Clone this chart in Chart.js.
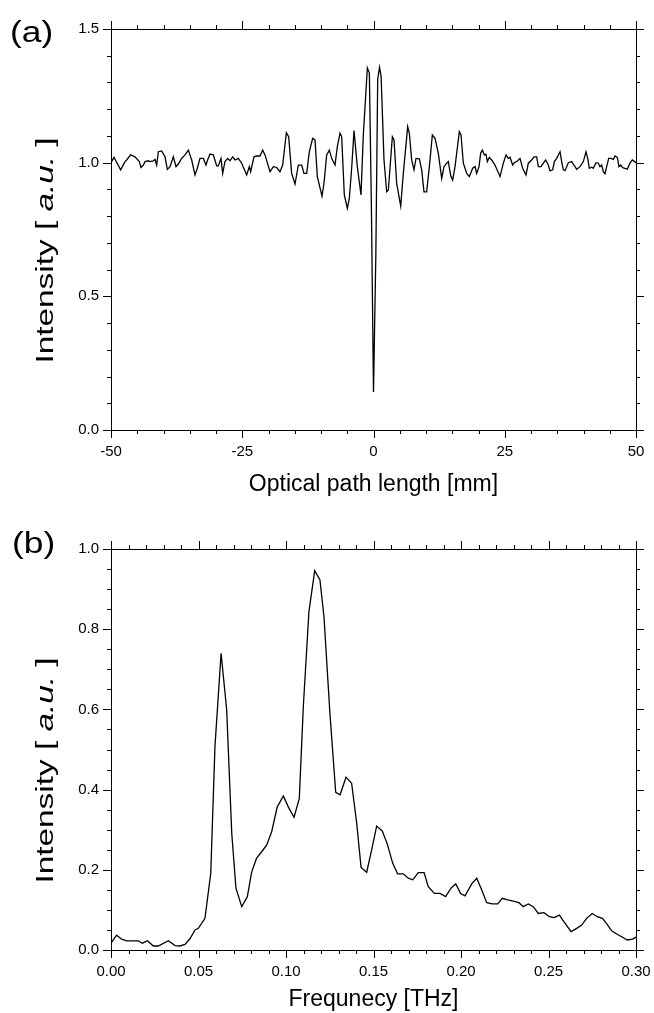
<!DOCTYPE html>
<html>
<head>
<meta charset="utf-8">
<script src="https://cdn.jsdelivr.net/npm/chart.js@4.4.0/dist/chart.umd.min.js"></script>
<style>
  body { margin: 0; background: #fff; }
  #wrap { position: relative; width: 654px; height: 1013px; }
  .panel { position: absolute; left: 0; width: 654px; }
</style>
</head>
<body>
<div id="wrap">
  <div class="panel" style="top:0;height:505px"><canvas id="chartA"></canvas></div>
  <div class="panel" style="top:505px;height:508px"><canvas id="chartB"></canvas></div>
</div>
<script>
// (a) interferogram: optical path length [mm] vs intensity
var pathX = [-50, -49.43, -48.16, -47.33, -47.02, -46.25, -45.43, -44.6, -44.29, -43.84, -43.52, -42.89, -42.57, -41.94, -41.62, -41.3, -40.98, -40.35, -39.71, -39.27, -38.76, -38.13, -37.62, -37.17, -36.54, -35.9, -35.27, -34.63, -34.0, -33.56, -33.05, -32.41, -31.9, -31.65, -31.14, -30.51, -29.87, -29.56, -29.05, -28.73, -28.29, -27.78, -27.33, -26.83, -26.38, -25.75, -25.11, -24.16, -23.65, -23.4, -22.76, -22.25, -21.62, -21.11, -20.67, -19.71, -19.08, -18.44, -17.81, -17.3, -16.6, -16.16, -15.59, -14.95, -14.32, -13.68, -13.24, -12.73, -12.22, -11.59, -11.14, -10.7, -9.81, -9.43, -8.92, -8.41, -7.97, -7.33, -6.89, -6.38, -6.06, -5.56, -4.98, -4.6, -4.16, -3.71, -3.08, -2.38, -1.94, -1.17, -0.79, -0.4, 0, 0.45, 0.8, 1.15, 1.45, 2.0, 2.51, 2.83, 3.59, 3.91, 4.41, 5.18, 5.68, 6.51, 6.83, 7.27, 7.72, 8.1, 8.73, 9.18, 9.62, 10.13, 10.64, 11.21, 11.72, 12.35, 12.99, 13.43, 13.94, 14.26, 14.57, 14.76, 15.08, 15.53, 16.35, 16.67, 17.11, 17.75, 18.26, 18.89, 19.34, 19.65, 20.1, 20.41, 20.73, 21.11, 21.43, 21.68, 22.07, 22.51, 23.14, 24.1, 24.73, 25.24, 25.68, 26.0, 26.51, 26.83, 27.4, 27.91, 28.41, 29.05, 29.49, 30.13, 30.57, 31.08, 31.4, 31.91, 32.35, 32.8, 33.3, 33.62, 34.13, 34.45, 34.89, 35.53, 35.84, 36.16, 36.48, 37.11, 37.75, 38.19, 38.7, 39.34, 39.97, 40.48, 40.8, 41.11, 41.56, 41.87, 42.38, 42.83, 43.14, 43.46, 43.78, 44.1, 44.41, 44.8, 45.24, 45.68, 46.0, 46.45, 46.76, 47.08, 47.46, 47.9, 48.35, 48.86, 49.3, 50];
var pathY = [1.0, 1.02, 0.973, 1.004, 1.01, 1.029, 1.022, 1.004, 0.982, 0.991, 1.004, 1.007, 1.004, 1.007, 1.012, 0.991, 1.041, 1.044, 1.022, 0.975, 0.985, 1.022, 0.985, 0.995, 1.016, 1.029, 1.047, 1.01, 0.954, 0.979, 1.016, 1.016, 0.991, 1.007, 1.032, 1.029, 0.988, 0.988, 1.016, 0.96, 1.004, 1.016, 1.007, 1.022, 1.01, 1.016, 0.998, 0.954, 0.985, 0.966, 1.022, 1.025, 1.025, 1.047, 1.029, 0.966, 0.985, 0.982, 0.966, 0.991, 1.112, 1.097, 0.96, 0.92, 0.991, 0.991, 0.96, 0.96, 1.041, 1.091, 1.085, 0.948, 0.875, 0.923, 1.029, 1.047, 1.016, 0.991, 1.06, 1.11, 1.097, 0.879, 0.829, 0.867, 0.979, 1.12, 0.985, 0.879, 1.104, 1.354, 1.335, 0.835, 0.142, 0.66, 1.312, 1.357, 1.322, 1.01, 0.891, 0.898, 1.097, 1.085, 0.923, 0.838, 0.96, 1.135, 1.11, 1.01, 0.973, 1.016, 1.014, 0.973, 0.891, 0.891, 0.985, 1.104, 1.091, 1.035, 0.941, 0.985, 0.998, 1.004, 0.966, 0.948, 0.935, 0.985, 1.116, 1.104, 0.998, 0.96, 0.948, 0.979, 0.985, 0.96, 0.985, 1.035, 1.047, 1.029, 1.031, 1.004, 1.02, 1.01, 0.991, 0.948, 0.998, 1.029, 1.016, 1.02, 0.991, 1.0, 1.006, 1.016, 0.979, 0.954, 0.998, 1.01, 1.022, 1.022, 0.985, 0.985, 0.998, 1.01, 0.991, 0.969, 0.973, 1.004, 1.016, 1.041, 1.004, 0.973, 0.97, 1.0, 1.004, 0.991, 0.975, 0.985, 1.004, 1.041, 1.016, 0.979, 0.983, 0.979, 1.0, 0.998, 0.985, 0.991, 0.966, 0.958, 0.985, 1.016, 1.016, 1.012, 1.025, 1.02, 0.985, 0.991, 0.981, 0.979, 0.976, 0.998, 1.01, 1.0];

// (b) spectrum: frequency [THz] vs intensity
var freqX = [0, 0.0032, 0.0061, 0.009, 0.0156, 0.0179, 0.0208, 0.0242, 0.027, 0.0328, 0.0366, 0.0394, 0.0423, 0.0451, 0.048, 0.0499, 0.0537, 0.057, 0.0594, 0.0629, 0.0661, 0.069, 0.0714, 0.0747, 0.0779, 0.0804, 0.0832, 0.0861, 0.089, 0.0918, 0.095, 0.0985, 0.1013, 0.1046, 0.1076, 0.1099, 0.1131, 0.1164, 0.1194, 0.1217, 0.1251, 0.1284, 0.1309, 0.1343, 0.1375, 0.1404, 0.1429, 0.1461, 0.149, 0.1518, 0.155, 0.1579, 0.161, 0.1638, 0.167, 0.1699, 0.1724, 0.1756, 0.1789, 0.1813, 0.1848, 0.188, 0.1912, 0.1943, 0.197, 0.1998, 0.2023, 0.2061, 0.209, 0.2118, 0.2147, 0.2179, 0.221, 0.2236, 0.2267, 0.2299, 0.2331, 0.2356, 0.2385, 0.2413, 0.2442, 0.2474, 0.2505, 0.2533, 0.2562, 0.2594, 0.2629, 0.2661, 0.269, 0.2718, 0.275, 0.2779, 0.2808, 0.2832, 0.2861, 0.289, 0.2918, 0.295, 0.2981, 0.3];
var freqY = [0.017, 0.037, 0.027, 0.023, 0.023, 0.017, 0.023, 0.01, 0.01, 0.023, 0.011, 0.01, 0.014, 0.028, 0.05, 0.054, 0.079, 0.191, 0.507, 0.74, 0.599, 0.291, 0.154, 0.108, 0.133, 0.195, 0.229, 0.245, 0.262, 0.295, 0.357, 0.384, 0.357, 0.331, 0.378, 0.607, 0.844, 0.946, 0.923, 0.831, 0.59, 0.393, 0.387, 0.431, 0.416, 0.316, 0.206, 0.194, 0.251, 0.309, 0.297, 0.264, 0.216, 0.19, 0.19, 0.179, 0.175, 0.193, 0.193, 0.158, 0.141, 0.141, 0.133, 0.154, 0.165, 0.141, 0.135, 0.165, 0.179, 0.15, 0.118, 0.115, 0.115, 0.129, 0.125, 0.122, 0.118, 0.108, 0.115, 0.108, 0.091, 0.093, 0.083, 0.081, 0.087, 0.067, 0.046, 0.054, 0.062, 0.079, 0.091, 0.083, 0.079, 0.066, 0.048, 0.04, 0.033, 0.025, 0.027, 0.032];

var FONT = '"Liberation Sans", Arial, sans-serif';

function toPoints(xs, ys) {
    return xs.map(function (x, i) { return { x: x, y: ys[i] }; });
}

function isMultiple(v, step) {
    var r = v / step;
    return Math.abs(r - Math.round(r)) < 1e-6;
}

// frame round the plot area, with major and minor ticks pointing outward on all four sides
var frameTicks = {
    id: 'frameTicks',
    afterDraw: function (chart, args, o) {
        var ctx = chart.ctx, a = chart.chartArea;
        var xs = chart.scales.x, ys = chart.scales.y;
        ctx.save();
        ctx.strokeStyle = '#000';
        ctx.lineWidth = 1;
        ctx.strokeRect(Math.round(a.left) + 0.5, Math.round(a.top) + 0.5,
            Math.round(a.right - a.left), Math.round(a.bottom - a.top));
        ctx.beginPath();
        var n = Math.round((xs.max - xs.min) / o.xMinor), i, v, p, len;
        for (i = 0; i <= n; i++) {
            v = xs.min + i * o.xMinor;
            p = Math.round(xs.getPixelForValue(v)) + 0.5;
            len = isMultiple(v, o.xMajor) ? 8 : 4;
            ctx.moveTo(p, a.bottom); ctx.lineTo(p, a.bottom + len);
            ctx.moveTo(p, a.top); ctx.lineTo(p, a.top - len);
        }
        n = Math.round((ys.max - ys.min) / o.yMinor);
        for (i = 0; i <= n; i++) {
            v = ys.min + i * o.yMinor;
            p = Math.round(ys.getPixelForValue(v)) + 0.5;
            len = isMultiple(v, o.yMajor) ? 8 : 4;
            ctx.moveTo(a.left, p); ctx.lineTo(a.left - len, p);
            ctx.moveTo(a.right, p); ctx.lineTo(a.right + len, p);
        }
        ctx.stroke();

        // y title with italic a.u. (the original lettering is drawn wide)
        var parts = [['Intensity [ ', ''], ['a.u.', 'italic '], [' ]', '']];
        var size = o.titleSize, total = 0;
        parts.forEach(function (q) {
            ctx.font = q[1] + size + 'px ' + FONT;
            total += ctx.measureText(q[0]).width;
        });
        ctx.translate(o.titleX, (a.top + a.bottom) / 2 + o.titleShift);
        ctx.rotate(-Math.PI / 2);
        ctx.scale(o.titleStretch, 1);
        ctx.fillStyle = '#000';
        ctx.textBaseline = 'middle';
        ctx.textAlign = 'left';
        var x = -total / 2;
        parts.forEach(function (q) {
            ctx.font = q[1] + size + 'px ' + FONT;
            ctx.fillText(q[0], x, 0);
            x += ctx.measureText(q[0]).width;
        });
        ctx.restore();

        // panel letter
        ctx.save();
        ctx.font = o.labelSize + 'px ' + FONT;
        ctx.fillStyle = '#000';
        ctx.textBaseline = 'middle';
        ctx.translate(o.labelX, o.labelY);
        ctx.scale(1.22, 1);
        ctx.fillText(o.label, 0, 0);
        ctx.restore();
    }
};

function makeChart(id, opt) {
    return new Chart(document.getElementById(id), {
        type: 'line',
        data: {
            datasets: [{
                data: toPoints(opt.xs, opt.ys),
                borderColor: '#000',
                borderWidth: 1.3,
                pointRadius: 0,
                fill: false,
                tension: 0
            }]
        },
        options: {
            responsive: true,
            maintainAspectRatio: false,
            animation: false,
            events: [],
            layout: { padding: { left: 0, right: 18, top: opt.top, bottom: 0 } },
            plugins: {
                legend: { display: false },
                tooltip: { enabled: false },
                frameTicks: opt.ticks
            },
            scales: {
                x: {
                    type: 'linear',
                    min: opt.xMin, max: opt.xMax,
                    afterFit: function (s) {
                        s.height = opt.xHeight;
                        s.paddingLeft = 0;
                        s.paddingRight = 0;
                    },
                    grid: { display: false, drawTicks: false },
                    border: { display: false },
                    ticks: {
                        stepSize: opt.xStep,
                        autoSkip: false,
                        maxRotation: 0,
                        padding: 13,
                        color: '#000',
                        font: { family: FONT, size: 15 },
                        callback: opt.xFmt
                    },
                    title: {
                        display: true,
                        text: opt.xTitle,
                        color: '#000',
                        font: { family: FONT, size: 23 },
                        padding: { top: 0, bottom: opt.titlePad }
                    }
                },
                y: {
                    min: opt.yMin, max: opt.yMax,
                    afterFit: function (s) { s.width = 111; },
                    grid: { display: false, drawTicks: false },
                    border: { display: false },
                    ticks: {
                        stepSize: opt.yStep,
                        padding: 12,
                        color: '#000',
                        font: { family: FONT, size: 15 },
                        callback: function (v) { return v.toFixed(1); }
                    }
                }
            }
        },
        plugins: [frameTicks]
    });
}

var chartA = makeChart('chartA', {
    xs: pathX, ys: pathY,
    xMin: -50, xMax: 50, xStep: 25,
    yMin: 0, yMax: 1.5, yStep: 0.5,
    xFmt: function (v) { return String(Math.round(v)); },
    xTitle: 'Optical path length [mm]',
    top: 29, xHeight: 75, titlePad: 7,
    ticks: { xMinor: 5, xMajor: 25, yMinor: 0.1, yMajor: 0.5,
        titleX: 47, titleShift: 21, titleSize: 23, titleStretch: 1.45,
        label: '(a)', labelX: 10, labelY: 34, labelSize: 29 }
});

var chartB = makeChart('chartB', {
    xs: freqX, ys: freqY,
    xMin: 0, xMax: 0.3, xStep: 0.05,
    yMin: 0, yMax: 1.0, yStep: 0.2,
    xFmt: function (v) { return v.toFixed(2); },
    xTitle: 'Frequnecy [THz]',
    top: 44, xHeight: 63, titlePad: 0,
    ticks: { xMinor: 0.01, xMajor: 0.05, yMinor: 0.05, yMajor: 0.2,
        titleX: 47, titleShift: 21, titleSize: 23, titleStretch: 1.45,
        label: '(b)', labelX: 12, labelY: 40, labelSize: 29 }
});
</script>
</body>
</html>
